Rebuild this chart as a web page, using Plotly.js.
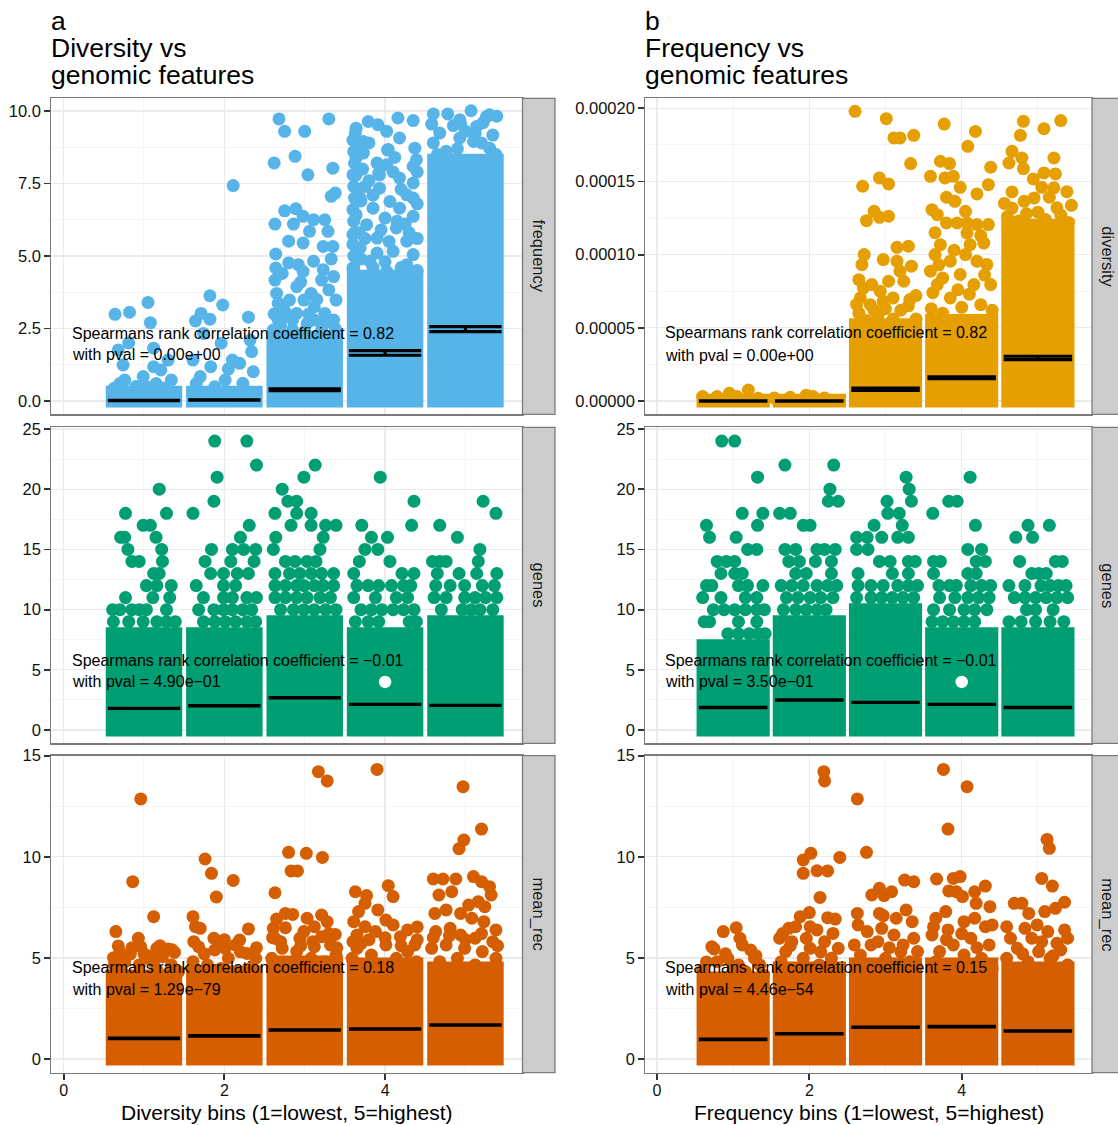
<!DOCTYPE html>
<html><head><meta charset="utf-8">
<script src="https://cdn.plot.ly/plotly-3.0.1.min.js"></script>
<style>html,body{margin:0;padding:0;background:#fff}</style>
</head><body><div id="chart" style="width:1118px;height:1125px"></div>
<script>
// ---------------- DATA ----------------
const bins = [1, 2, 3, 4, 5];
const panelTitles = ['a', 'b'];
const panelSub1 = ['Diversity vs', 'Frequency vs'];
const panelSub2 = ['genomic features', 'genomic features'];
const xTitles = ['Diversity bins (1=lowest, 5=highest)', 'Frequency bins (1=lowest, 5=highest)'];
const stripLabels = [['frequency', 'genes', 'mean_rec'], ['diversity', 'genes', 'mean_rec']];
const rhoText = [['0.82', '\u22120.01', '0.18'], ['0.82', '\u22120.01', '0.15']];
const pvalText = [['0.00e+00', '4.90e\u221201', '1.29e\u221279'], ['0.00e+00', '3.50e\u221201', '4.46e\u221254']];

// a / frequency
const dfCore = [0.3, 0.3, 2.2, 4.3, 8.3];
const dfMean = [0.02, 0.03, 0.39, 1.655, 2.475];
const dfSE = [0.005, 0.005, 0.03, 0.079, 0.086];
const dfPts = [
 [0.64,2.99],[0.82,3.06],[1.05,3.4],[1.08,2.7],[0.81,2.0],[0.68,1.76],[1.12,1.82],[0.74,1.24],[1.12,1.18],[1.30,1.41],[0.99,0.84],[1.21,1.07],[0.76,0.72],[1.34,0.72],[0.63,0.44],[1.03,0.49],[0.9,0.5],[1.25,0.45],[0.7,0.6],[1.15,0.6],
 [1.64,2.76],[1.71,3.02],[1.82,2.82],[1.82,3.63],[1.98,3.31],[2.30,2.89],[2.11,7.43],[1.74,2.33],[1.96,1.99],[2.32,2.10],[2.34,1.70],[1.61,1.41],[1.83,1.18],[2.10,1.41],[2.19,1.30],[2.36,1.01],[1.70,0.84],[2.01,0.72],[2.23,0.61],[1.88,0.49],[1.65,0.6],[2.05,1.1],
 [2.68,9.73],[3.30,9.73],[2.75,9.30],[3.00,9.30],[2.62,8.21],[2.88,8.44],[3.04,7.80],[3.35,8.03],[3.33,7.06],[3.38,7.17],[2.75,6.56],[2.89,6.63],[2.63,6.10],[2.86,6.10],[2.98,6.37],[3.11,6.25],[3.25,6.25],[3.06,5.85],[3.29,5.85],[2.80,5.51],[2.98,5.45],[3.23,5.33],[3.35,5.33],[2.64,5.07],[2.80,4.76],[2.92,4.70],[3.11,4.82],[3.33,4.90],[2.64,4.59],[2.98,4.47],[3.23,4.53],
 [2.63,4.17],[2.65,3.71],[2.72,4.40],[2.67,3.37],[2.76,2.91],[2.90,3.02],[2.90,3.94],[3.08,3.71],[3.12,3.25],[3.21,4.17],[3.30,3.83],[3.36,4.29],[3.39,3.48],[3.36,2.79],[3.25,3.02],[3.03,2.68],[2.61,2.45],[2.85,2.45],[3.21,2.45],[2.67,2.79],[3.12,2.79],[2.99,3.48],[2.81,3.48],[2.62,3.0],[2.7,2.6],[3.0,2.4],[3.38,2.5],[3.15,3.5],[2.95,4.1],[2.75,3.1],[3.05,3.0],[3.25,2.7],[2.85,2.8],
 [3.64,9.41],[3.79,9.64],[3.91,9.53],[4.02,9.30],[3.73,8.95],[4.16,9.76],[4.35,9.67],[4.18,9.07],[4.04,8.67],[4.37,8.72],[4.39,8.32],[3.64,8.38],[3.73,8.55],[4.35,8.09],[3.90,8.21],[4.02,8.15],[3.64,7.80],[3.93,7.80],[4.18,7.69],[4.35,7.52],[3.75,7.40],[3.93,7.34],[4.27,7.11],[3.69,7.00],[4.06,6.88],[4.35,7.00],[3.85,6.65],[4.18,6.65],[3.64,6.42],[4.00,6.31],[4.35,6.37],[3.77,6.08],[4.14,5.97],[3.60,5.74],[3.90,5.62],[4.27,5.51],[3.69,5.28],[4.10,5.16],[4.35,5.05],[3.81,4.82],[4.27,4.70],[3.60,4.59],[4.02,4.47],
 [3.61,4.6],[3.61,5.0],[3.60,5.4],[3.62,5.8],[3.61,6.2],[3.60,6.6],[3.62,7.0],[3.61,7.4],[3.60,7.8],[3.62,8.2],[3.61,8.6],[3.60,9.0],[3.63,9.25],[3.68,5.8],[3.70,6.9],[3.72,8.0],[3.66,7.3],[3.70,4.9],[3.75,5.6],[3.90,5.1],[4.00,4.8],[4.20,4.6],[4.40,4.5],[3.85,4.6],[4.30,5.8],[4.05,5.5],[4.40,6.8],[4.20,7.3],[3.80,7.6],[3.70,8.89],[4.03,8.66],[3.92,7.85],[4.40,5.6],[4.15,6.2],[3.85,7.1],[4.10,7.9],[3.95,5.9],[4.25,6.1],[4.40,7.9],[3.80,8.9],[4.12,8.4],
 [4.60,9.90],[4.78,9.90],[5.07,10.01],[4.93,9.70],[5.30,9.87],[5.39,9.82],[5.14,9.47],[4.68,9.24],[5.34,9.17],[4.93,9.07],[5.30,8.72],[4.60,8.90],[5.10,8.95],[4.76,8.61],[4.58,9.55],[5.0,9.3],[5.22,9.6],[4.85,9.5],[5.38,8.5],[4.65,8.5],[5.2,8.9],[4.9,8.7],[5.26,9.80],[4.94,9.57],[5.12,9.23]
];

// a / genes
const dgCore = [8, 8, 9, 8, 9];
const dgMean = [1.80, 2.02, 2.69, 2.13, 2.05];
const dgSE = [0.01, 0.01, 0.01, 0.01, 0.01];
const dgPts = [
 [0.62,9],[0.81,9],[0.99,9],[1.16,9],[1.28,9],[1.39,9],[0.61,10],[0.70,10],[0.85,10],[0.94,10],[1.03,10],[1.28,10],[0.77,11],[1.11,11],[1.32,11],[1.03,12],[1.16,12],[1.34,12],[1.12,13],[1.19,13],[0.85,14],[0.94,14],[1.23,14],[0.80,15],[1.22,15],[0.71,16],[0.76,16],[1.15,16],[0.99,17],[1.08,17],[0.77,18],[1.28,18],[1.19,20],
 [1.74,9],[1.88,9],[2.01,9],[2.14,9],[2.28,9],[2.39,9],[1.68,10],[1.87,10],[1.99,10],[2.10,10],[2.23,10],[2.34,10],[1.74,11],[1.99,11],[2.10,11],[2.28,11],[2.40,11],[1.65,12],[1.99,12],[2.14,12],[1.83,13],[1.99,13],[2.16,13],[2.30,13],[1.76,14],[2.08,14],[2.37,14],[1.84,15],[2.10,15],[2.24,15],[2.39,15],[2.20,16],[2.31,17],[1.61,18],[1.87,19],[1.91,21],[2.40,22],[1.88,24],[2.28,24],
 [2.70,10],[2.86,10],[2.99,10],[3.12,10],[3.26,10],[3.39,10],[2.63,11],[2.76,11],[2.90,11],[3.03,11],[3.19,11],[3.32,11],[2.63,12],[2.76,12],[2.90,12],[2.99,12],[3.12,12],[3.23,12],[3.36,12],[2.63,13],[2.81,13],[2.94,13],[3.08,13],[3.21,13],[3.36,13],[2.76,14],[2.88,14],[3.03,14],[3.14,14],[2.61,15],[3.19,15],[2.64,16],[3.23,16],[2.83,17],[3.08,17],[3.26,17],[3.39,17],[2.63,18],[2.90,18],[3.08,18],[2.79,19],[2.90,19],[2.72,20],[2.99,21],[3.13,22],
 [3.63,9],[3.79,9],[3.92,9],[4.30,9],[4.39,9],[3.70,10],[3.83,10],[3.96,10],[4.10,10],[4.23,10],[4.36,10],[3.61,11],[3.88,11],[4.14,11],[4.28,11],[3.65,12],[3.79,12],[3.92,12],[4.08,12],[4.23,12],[4.32,12],[3.61,13],[4.21,13],[4.36,13],[3.68,14],[4.06,14],[3.75,15],[3.91,15],[3.83,16],[4.03,16],[3.71,17],[4.33,17],[4.36,19],[3.94,21],
 [4.70,10],[4.96,10],[5.07,10],[5.18,10],[5.34,10],[4.61,11],[4.76,11],[4.99,11],[5.12,11],[5.25,11],[5.39,11],[4.63,12],[4.81,12],[4.99,12],[5.21,12],[5.36,12],[4.65,13],[4.92,13],[5.14,13],[5.39,13],[4.59,14],[4.68,14],[4.76,14],[5.16,14],[5.18,15],[4.90,16],[4.68,17],[5.38,18],[5.22,19]
];
const dgWhite = [[4.0, 4]];

// a / mean_rec
const drCore = [4.1, 4.3, 4.8, 4.7, 4.5];
const drMean = [1.02, 1.14, 1.43, 1.48, 1.68];
const drSE = [0.01, 0.01, 0.01, 0.01, 0.01];
const drPts = [
 [0.96,12.86],[0.86,8.77],[1.12,7.04],[0.65,6.30],[0.68,5.59],[0.93,5.97],[0.96,5.55],[0.83,5.19],[1.16,5.47],[1.30,5.44],[1.38,5.27],[1.23,5.06],[1.03,4.98],[0.63,4.65],[0.76,4.81],[0.94,4.65],[1.12,4.81],[1.34,4.65],[1.43,4.32],[0.72,4.32],[1.16,4.40],[0.70,5.3],[0.85,5.5],[1.00,5.2],[1.20,5.6],[1.35,5.4],[0.62,5.0],[1.10,5.1],
 [1.76,9.89],[1.84,9.18],[2.11,8.83],[1.90,8.01],[1.61,7.04],[1.64,6.54],[1.70,6.46],[2.30,6.43],[1.87,5.97],[1.92,5.83],[2.19,5.88],[1.68,5.55],[1.88,5.39],[2.01,5.47],[2.14,5.64],[2.39,4.98],[2.28,5.22],[2.05,4.98],[1.61,4.81],[1.79,4.65],[2.32,4.48],[1.96,4.48],[1.70,4.32],[1.62,5.8],[1.75,5.2],[2.00,5.9],[2.20,5.3],[2.40,5.5],
 [3.17,14.21],[3.28,13.75],[2.80,10.22],[3.02,10.17],[3.22,9.97],[2.83,9.30],[2.91,9.30],[2.63,8.22],[2.76,7.20],[2.85,7.15],[3.03,6.96],[3.21,7.12],[3.28,6.79],[2.65,6.92],[2.61,6.46],[2.76,6.49],[3.38,6.16],[2.99,6.30],[3.12,6.54],[2.63,5.97],[2.94,5.97],[3.21,6.05],[3.32,5.64],[2.72,5.47],[3.12,5.55],[2.90,5.31],[3.39,5.14],[2.59,4.98],[3.08,4.98],[3.25,4.81],[2.60,6.0],[2.70,5.8],[2.95,5.6],[3.10,5.8],[3.30,6.2],[3.40,5.5],
 [3.90,14.32],[3.63,8.27],[3.77,8.08],[4.04,8.57],[4.10,8.03],[3.75,7.70],[3.67,7.29],[3.91,7.37],[3.61,6.79],[4.01,6.87],[4.10,6.63],[4.40,6.53],[4.28,6.38],[3.75,6.54],[3.65,6.13],[3.88,6.30],[4.19,6.05],[4.37,5.64],[3.65,5.47],[4.01,5.64],[4.28,5.31],[3.59,4.98],[3.83,5.14],[4.14,4.98],[4.39,4.81],[3.92,4.65],[3.60,5.8],[3.80,5.9],[4.00,6.0],[4.20,5.6],[4.40,5.9],[3.70,5.7],
 [4.97,13.47],[5.20,11.37],[4.98,10.83],[4.92,10.40],[4.60,8.90],[4.72,8.90],[4.88,8.90],[4.67,8.11],[4.83,8.27],[5.10,9.02],[5.20,8.77],[5.30,8.52],[5.32,8.11],[4.62,7.20],[4.76,7.37],[4.94,7.20],[5.16,7.78],[5.24,7.53],[5.04,7.61],[5.08,6.96],[5.23,6.79],[5.38,6.38],[4.63,6.30],[4.81,6.46],[4.94,6.13],[5.12,5.97],[5.34,5.80],[4.58,5.47],[4.76,5.64],[4.99,5.47],[5.21,5.31],[5.38,4.98],[4.68,4.81],[4.90,4.98],[5.12,4.65],[5.38,4.57],[4.63,4.15],[4.99,4.32],[5.30,3.99],[4.60,6.0],[4.80,6.1],[5.00,5.9],[5.20,6.2],[5.40,5.6]
];

// b / diversity (values in units of 1e-5)
const fdUnit = 1e-5;
const fdCore = [0.05, 0.05, 5.2, 5.5, 12.0];
const fdMean = [0.0, 0.0, 0.80, 1.59, 2.94];
const fdSE = [0.01, 0.01, 0.079, 0.058, 0.116];
const fdPts = [
 [0.95,0.52],[1.20,0.75],[0.79,0.3],[0.60,0.3],[1.33,0.18],[1.05,0.3],
 [1.96,0.4],[1.54,0.2],[2.20,0.2],[1.75,0.25],[2.05,0.3],
 [2.60,19.79],[3.01,19.29],[3.11,17.97],[3.19,17.97],[3.37,18.15],[3.33,16.22],[2.70,14.67],[2.92,15.24],[3.04,14.83],[2.75,12.32],[2.85,12.96],[2.92,12.55],[3.04,12.62],[3.15,10.50],[3.30,10.57],[2.97,9.66],[2.72,10.0],[2.69,9.31],[2.65,8.29],[3.15,9.55],[3.19,8.87],[3.34,9.21],[3.04,8.18],[3.24,8.18],[2.71,7.72],[2.82,7.95],[2.93,7.50],[3.32,6.93],[3.10,7.04],[2.67,7.04],[2.80,6.58],[2.97,6.81],[2.65,6.0],[2.9,5.8],[3.2,6.2],[3.4,5.6],[3.0,6.3],[2.75,5.5],[3.3,6.5],[3.4,7.2],[2.62,6.6],[3.1,5.6],[2.85,6.2],
 [3.77,18.92],[4.18,18.42],[4.08,17.40],[3.72,16.38],[3.84,16.22],[3.59,15.35],[3.78,15.24],[3.89,15.35],[4.38,15.97],[4.35,14.78],[3.98,14.60],[3.80,13.92],[3.91,13.64],[4.20,14.15],[3.61,13.07],[3.68,12.73],[4.05,12.96],[3.80,12.16],[3.94,12.16],[4.07,12.16],[4.20,12.05],[4.35,12.05],[4.07,11.47],[4.29,10.79],[3.72,10.68],[4.11,10.68],[3.65,10.0],[3.85,9.55],[4.20,9.55],[4.33,9.32],[3.59,8.87],[3.98,8.64],[3.68,7.95],[4.16,7.95],[4.38,7.95],[3.85,7.04],[4.25,6.58],[3.6,6.3],[3.75,6.0],[4.0,6.4],[4.1,7.3],[4.4,6.2],[3.95,7.6],[3.62,7.4],[4.3,8.6],[3.75,8.4],[4.05,10.0],[3.9,10.3],[4.25,11.3],[3.65,11.5],[3.7,9.3],
 [4.81,19.11],[5.30,19.16],[5.08,18.60],[4.77,18.15],[4.66,17.06],[4.79,16.6],[5.21,16.6],[4.62,16.26],[4.81,15.87],[5.08,15.58],[5.23,15.51],[4.94,15.17],[5.05,14.60],[4.66,14.28],[5.44,13.37],[4.82,13.64],[4.95,13.87],[5.15,13.92],[5.21,14.56],[4.66,13.18],[4.6,12.6],[4.85,12.8],[5.1,12.4],[5.3,12.7],[5.4,12.2],[4.75,12.3],[5.0,12.9],[5.25,13.2],[4.56,13.5],[5.38,14.3]
];

// b / genes
const fgCore = [7, 9, 10, 8, 8];
const fgMean = [1.88, 2.49, 2.30, 2.13, 1.88];
const fgSE = [0.01, 0.01, 0.01, 0.01, 0.01];
const fgPts = [
 [0.93,8],[1.07,8],[1.21,8],[1.33,8],[1.42,8],[0.62,9],[0.69,9],[1.07,9],[1.31,9],[0.74,10],[0.88,10],[1.02,10],[1.16,10],[1.31,10],[1.41,10],[0.60,11],[0.84,11],[1.16,11],[1.31,11],[0.65,12],[0.72,12],[1.07,12],[1.19,12],[1.39,12],[0.84,13],[1.02,13],[1.12,13],[0.79,14],[0.91,14],[1.02,14],[1.19,15],[1.31,15],[0.69,16],[1.04,16],[0.65,17],[1.32,17],[1.12,18],[1.39,18],[1.32,21],[0.85,24],[1.02,24],
 [1.66,10],[1.82,10],[1.96,10],[2.10,10],[2.22,10],[1.70,11],[1.85,11],[2.01,11],[2.15,11],[2.31,11],[1.63,12],[1.77,12],[1.92,12],[2.10,12],[2.24,12],[2.36,12],[1.82,13],[1.96,13],[2.29,13],[1.73,14],[1.87,14],[2.08,14],[2.29,14],[1.68,15],[1.82,15],[2.10,15],[2.20,15],[2.34,15],[1.92,17],[2.01,17],[1.61,18],[1.75,18],[2.25,19],[2.38,19],[2.27,20],[1.68,22],[2.32,22],
 [2.62,11],[2.81,11],[2.95,11],[3.09,11],[3.23,11],[3.37,11],[2.64,12],[2.81,12],[2.97,12],[3.16,12],[3.30,12],[3.42,12],[2.64,13],[3.09,13],[3.30,13],[2.92,14],[3.06,14],[3.30,14],[3.39,14],[2.62,15],[2.77,15],[2.62,16],[2.76,16],[2.95,16],[3.16,16],[3.30,16],[2.85,17],[3.22,17],[3.03,18],[3.18,18],[3.02,19],[3.34,19],[3.31,20],[3.27,21],
 [3.61,9],[3.75,9],[3.89,9],[4.03,9],[4.17,9],[3.63,10],[3.84,10],[4.03,10],[4.17,10],[4.33,10],[3.71,11],[3.91,11],[4.08,11],[4.22,11],[4.36,11],[3.70,12],[3.84,12],[3.93,12],[4.12,12],[4.26,12],[4.38,12],[3.63,13],[4.08,13],[4.19,13],[3.63,14],[3.72,14],[4.19,14],[4.31,14],[4.08,15],[4.26,15],[4.18,17],[3.62,18],[3.83,19],[3.94,19],[4.11,21],
 [4.62,9],[4.78,9],[4.97,9],[5.16,9],[5.34,9],[4.85,10],[4.97,10],[5.20,10],[4.69,11],[4.83,11],[4.97,11],[5.11,11],[5.25,11],[5.39,11],[4.62,12],[4.83,12],[5.04,12],[5.16,12],[5.27,12],[5.37,12],[4.92,13],[5.01,13],[5.11,13],[4.76,14],[5.23,14],[5.32,14],[4.71,16],[4.93,16],[4.87,17],[5.15,17]
];
const fgWhite = [[4.0, 4]];

// b / mean_rec
const frCore = [4.0, 4.5, 4.7, 4.7, 4.5];
const frMean = [0.97, 1.25, 1.57, 1.60, 1.38];
const frSE = [0.01, 0.01, 0.01, 0.01, 0.01];
const frPts = [
 [0.87,6.30],[1.04,6.49],[0.72,5.55],[0.75,5.44],[1.09,5.97],[1.12,5.64],[1.23,5.39],[1.28,4.98],[0.93,4.98],[0.79,4.81],[1.07,4.65],[1.35,4.65],[0.60,4.40],[1.16,4.32],[1.40,4.15],[0.65,4.8],[0.9,5.2],[1.3,5.1],[1.0,4.5],
 [2.19,14.21],[2.20,13.75],[1.92,9.84],[2.02,10.17],[1.92,9.18],[2.10,9.31],[2.24,9.30],[2.40,9.97],[2.14,7.99],[1.88,7.04],[2.00,7.24],[2.24,6.99],[2.34,6.92],[1.73,6.46],[1.82,6.54],[2.01,6.54],[2.10,6.38],[2.31,6.21],[1.61,5.97],[1.77,5.80],[1.96,5.97],[2.20,5.80],[2.38,5.47],[1.69,5.31],[2.01,5.47],[2.29,4.98],[1.63,4.81],[1.92,4.98],[2.13,4.65],[2.38,4.48],[1.82,4.48],[1.75,5.6],[2.15,5.3],[1.65,6.2],
 [2.63,12.86],[2.75,10.22],[2.82,8.11],[2.92,8.44],[2.98,8.08],[3.08,8.27],[3.25,8.85],[3.37,8.77],[2.63,7.20],[2.92,7.20],[2.97,7.09],[3.14,6.96],[3.27,7.37],[3.35,6.79],[2.64,6.63],[2.76,6.30],[2.95,6.46],[3.11,6.13],[3.37,5.97],[2.59,5.64],[2.81,5.64],[3.23,5.64],[3.42,5.31],[2.67,5.14],[3.00,4.98],[3.32,4.81],[2.76,4.65],[3.14,4.48],[2.9,5.8],[3.2,5.3],[3.05,5.5],
 [3.76,14.32],[4.07,13.47],[3.82,11.37],[3.67,8.90],[3.89,8.93],[3.98,9.02],[3.83,8.31],[3.93,8.27],[4.01,8.03],[4.17,8.27],[4.31,8.55],[4.19,7.70],[4.37,7.53],[3.66,6.96],[3.79,7.29],[3.82,6.38],[4.03,6.79],[4.17,6.96],[4.31,6.54],[4.40,6.63],[3.63,6.54],[3.61,6.13],[3.89,5.64],[4.12,5.97],[4.36,5.64],[3.71,5.31],[4.03,5.14],[4.26,4.98],[3.66,4.81],[3.89,4.65],[4.40,4.48],[3.8,5.9],[4.2,5.5],[4.0,6.2],
 [5.12,10.86],[5.15,10.42],[5.05,8.93],[5.19,8.55],[4.69,7.70],[4.79,7.70],[4.88,7.20],[5.09,7.29],[5.23,7.45],[5.35,7.75],[4.59,6.54],[4.83,6.46],[4.99,6.63],[5.13,6.30],[5.35,6.38],[5.39,5.97],[4.64,5.97],[4.92,5.97],[5.25,5.72],[4.73,5.47],[5.01,5.31],[5.30,5.39],[4.59,4.98],[4.87,4.81],[5.16,4.98],[5.39,4.65],[4.73,4.32],[5.05,5.8],[4.8,5.2],[5.2,5.1]
];

// ---------------- LAYOUT / DRAWING ----------------
const W = 1118, H = 1125;
const FONT = 'Liberation Sans, Arial, Helvetica, sans-serif';
const COL = {blue: '#56B4E9', orange: '#E69F00', green: '#009E73', red: '#D55E00'};
const MS = 13;
const colDom = [[51, 522.5], [645, 1092]];
const rowDom = [[98.3, 414.3], [427.3, 743.3], [755.7, 1072.7]];
const stripDom = [[522.5, 555], [1092, 1126]];
const xRange = [-0.157, 5.71];
const fx = p => p / W, fy = p => 1 - p / H;

const panels = [
  {c:0, r:0, color:COL.blue,   core:dfCore, pts:dfPts, mean:dfMean, se:dfSE, scale:1, range:[-0.46,10.44], dtick:2.5, minor:1.25, fmt:'.1f', txtY:[2.34,1.59]},
  {c:0, r:1, color:COL.green,  core:dgCore, pts:dgPts, mean:dgMean, se:dgSE, scale:1, range:[-1.1,25.14], dtick:5, minor:2.5, fmt:'d', txtY:[5.81,4.01], white:dgWhite},
  {c:0, r:2, color:COL.red,    core:drCore, pts:drPts, mean:drMean, se:drSE, scale:1, range:[-0.68,15.0], dtick:5, minor:2.5, fmt:'d', txtY:[4.52,3.42]},
  {c:1, r:0, color:COL.orange, core:fdCore, pts:fdPts, mean:fdMean, se:fdSE, scale:fdUnit, range:[-0.0000091,0.0002068], dtick:0.00005, minor:0.000025, fmt:'.5f', txtY:[4.65e-5,3.14e-5]},
  {c:1, r:1, color:COL.green,  core:fgCore, pts:fgPts, mean:fgMean, se:fgSE, scale:1, range:[-1.1,25.14], dtick:5, minor:2.5, fmt:'d', txtY:[5.81,4.01], white:fgWhite},
  {c:1, r:2, color:COL.red,    core:frCore, pts:frPts, mean:frMean, se:frSE, scale:1, range:[-0.68,15.0], dtick:5, minor:2.5, fmt:'d', txtY:[4.52,3.42]}
];

const traces = [];
const layout = {
  width: W, height: H, margin: {l:0, r:0, t:0, b:0},
  paper_bgcolor: '#fff', plot_bgcolor: '#fff', showlegend: false,
  font: {family: FONT, color: '#111'},
  shapes: [], annotations: [], hovermode: false
};

panels.forEach((p, i) => {
  const k = i + 1;
  const xa = k === 1 ? 'x' : 'x' + k;
  const ya = k === 1 ? 'y' : 'y' + k;
  const xPx = (colDom[p.c][1] - colDom[p.c][0]) / (xRange[1] - xRange[0]);
  const halfW = 0.45 * xPx;
  traces.push({type:'bar', x:bins, y:p.core.map(v => v*p.scale), width:0.79, base:0,
    marker:{color:p.color, line:{color:p.color, width:MS}}, xaxis:xa, yaxis:ya, hoverinfo:'skip'});
  traces.push({type:'scatter', mode:'markers', x:p.pts.map(q => q[0]), y:p.pts.map(q => q[1]*p.scale),
    marker:{size:MS, color:p.color, line:{width:0}}, xaxis:xa, yaxis:ya, hoverinfo:'skip', cliponaxis:false});
  if (p.white) {
    traces.push({type:'scatter', mode:'markers', x:p.white.map(q => q[0]), y:p.white.map(q => q[1]),
      marker:{size:MS - 0.5, color:'#ffffff', line:{width:0}}, xaxis:xa, yaxis:ya, hoverinfo:'skip'});
  }
  traces.push({type:'scatter', mode:'markers', x:bins, y:p.mean.map(v => v*p.scale),
    marker:{size:1, color:'rgba(0,0,0,0)'},
    error_y:{type:'data', array:p.se.map(v => v*p.scale), symmetric:true, color:'#000', thickness:3.2, width:halfW},
    xaxis:xa, yaxis:ya, hoverinfo:'skip'});

  const bottom = p.r === 2;
  layout['xaxis' + (k === 1 ? '' : k)] = {
    domain:[fx(colDom[p.c][0]), fx(colDom[p.c][1])], range:xRange, anchor:ya,
    tick0:0, dtick:2, showgrid:true, gridcolor:'#EBEBEB', gridwidth:1.3,
    minor:{tick0:1, dtick:1, showgrid:true, gridcolor:'#F3F3F3', gridwidth:0.8, ticks:''},
    zeroline:false, showline:true, mirror:true, linecolor:'#7a7a7a', linewidth:1.3,
    ticks: bottom ? 'outside' : '', ticklen:5.5, tickwidth:1.8, tickcolor:'#333', ticklabelstandoff:-3,
    showticklabels: bottom, tickfont:{size:16, color:'#111', family:FONT}, automargin:false, fixedrange:true
  };
  layout['yaxis' + (k === 1 ? '' : k)] = {
    domain:[fy(rowDom[p.r][1]), fy(rowDom[p.r][0])], range:p.range, anchor:xa,
    tick0:0, dtick:p.dtick, tickformat:p.fmt, showgrid:true, gridcolor:'#EBEBEB', gridwidth:1.3,
    minor:{tick0:0, dtick:p.minor, showgrid:true, gridcolor:'#F3F3F3', gridwidth:0.8, ticks:''},
    zeroline:false, showline:true, mirror:true, linecolor:'#7a7a7a', linewidth:1.3,
    ticks:'outside', ticklen:5.5, tickwidth:1.8, tickcolor:'#333',
    tickfont:{size:16.5, color:'#111', family:FONT}, automargin:false, fixedrange:true
  };

  // correlation annotations
  const t1 = 'Spearmans rank correlation coefficient = ' + rhoText[p.c][p.r];
  const t2 = 'with pval = ' + pvalText[p.c][p.r];
  [t1, t2].forEach((t, j) => layout.annotations.push({
    xref:xa, yref:ya, x:0.085, y:p.txtY[j], xanchor:'left', yanchor:'middle', showarrow:false,
    text:t, font:{size:16, color:'#000', family:FONT}
  }));

  // strip
  const sd = stripDom[p.c];
  layout.shapes.push({type:'rect', xref:'paper', yref:'paper', x0:fx(sd[0]), x1:fx(sd[1]),
    y0:fy(rowDom[p.r][1]), y1:fy(rowDom[p.r][0]), fillcolor:'#CCCCCC', line:{color:'#7a7a7a', width:1.3}, layer:'above'});
  layout.annotations.push({xref:'paper', yref:'paper', x:fx((colDom[p.c][1] + (p.c===0?555:1124))/2), y:fy((rowDom[p.r][0]+rowDom[p.r][1])/2),
    xanchor:'center', yanchor:'middle', showarrow:false, textangle:90, text:stripLabels[p.c][p.r],
    font:{size:16.5, color:'#1a1a1a', family:FONT}});
});

// panel titles: one three-line text block (line pitch ~27px, glyphs 26.5px)
[0, 1].forEach(c => {
  const span = s => '<span style="font-size:26.5px">' + s + '</span>';
  layout.annotations.push({xref:'paper', yref:'paper', x:fx(colDom[c][0] - 1), y:fy(48.3), xanchor:'left', yanchor:'middle',
    align:'left', showarrow:false, borderpad:0,
    text:[panelTitles[c], panelSub1[c], panelSub2[c]].map(span).join('<br>'),
    font:{size:20.8, color:'#000', family:FONT}});
  layout.annotations.push({xref:'paper', yref:'paper', x:fx((colDom[c][0]+colDom[c][1])/2), y:fy(1112.5),
    xanchor:'center', yanchor:'middle', showarrow:false, text:xTitles[c], font:{size:21, color:'#000', family:FONT}});
});

Plotly.newPlot('chart', traces, layout, {staticPlot:true, displayModeBar:false});
</script>
</body></html>
